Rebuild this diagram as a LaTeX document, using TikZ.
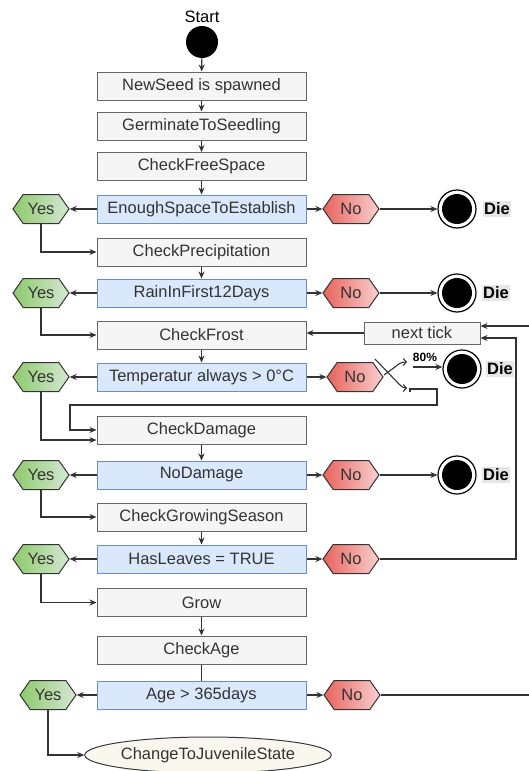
\documentclass[tikz,border=0pt]{standalone}
\usepackage{fontspec}
\setmainfont{Liberation Sans}
\usetikzlibrary{shapes.symbols,shapes.geometric,arrows.meta}
\definecolor{procfill}{HTML}{F5F5F5}
\definecolor{procline}{HTML}{666666}
\definecolor{condfill}{HTML}{DAE8FC}
\definecolor{condline}{HTML}{6C8EBF}
\definecolor{yesdark}{HTML}{8DC96A}
\definecolor{yeslight}{HTML}{D5E8D4}
\definecolor{nodark}{HTML}{E8625D}
\definecolor{nolight}{HTML}{F8D0CE}
\definecolor{ink}{HTML}{333333}
\definecolor{diebg}{HTML}{E6E6E6}
\definecolor{endfill}{HTML}{F9F7ED}
\definecolor{endline}{HTML}{36393D}
\begin{document}
\begin{tikzpicture}[x=1pt,y=-1pt,
  font=\fontsize{16.5}{19}\selectfont,
  proc/.style={draw=procline, fill=procfill, line width=1pt, text=ink,
    minimum width=209pt, minimum height=28pt, inner sep=0pt},
  cond/.style={proc, draw=condline, fill=condfill},
  hexa/.style={signal, signal to=east and west, signal pointer angle=110,
    draw=ink, line width=1pt, text=ink, minimum width=56pt, minimum height=29pt,
    inner sep=0pt},
  yesbox/.style={hexa, left color=yesdark, right color=yeslight},
  nobox/.style={hexa, left color=nodark, right color=nolight},
  diecircle/.style={circle, draw=black, line width=1.2pt, fill=white,
    minimum size=38pt, inner sep=0pt,
    path picture={\fill[black] (path picture bounding box.center) circle (15pt);}},
  dielabel/.style={font=\fontsize{16.5}{19}\selectfont\bfseries, fill=diebg,
    inner sep=1.5pt},
  arr/.style={draw=ink, line width=1.1pt, -{Stealth[length=7pt,width=6pt]}},
  plain/.style={draw=ink, line width=1.1pt},
  openarr/.style={draw=ink, line width=1.1pt, -{Straight Barb[length=3pt,width=7pt]}}
]
\useasboundingbox (0,0) rectangle (528,771);

% start
\node[text=black] (starttxt) at (202,17) {Start};
\node[circle, fill=black, minimum size=32pt, inner sep=0pt] (start) at (202,42) {};

% main column
\node[proc] (seed)    at (201.5,86)  {NewSeed is spawned};
\node[proc] (germ)    at (201.5,126) {GerminateToSeedling};
\node[proc] (free)    at (201.5,166.5) {CheckFreeSpace};
\node[cond] (enough)  at (201.5,209) {EnoughSpaceToEstablish};
\node[proc] (precip)  at (201.5,252) {CheckPrecipitation};
\node[cond] (rain)    at (201.5,293) {RainInFirst12Days};
\node[proc] (frost)   at (201.5,335) {CheckFrost};
\node[cond] (temp)    at (201.5,377) {Temperatur always > 0°C};
\node[proc] (damage)  at (201.5,430) {CheckDamage};
\node[cond] (nodmg)   at (201.5,475) {NoDamage};
\node[proc] (season)  at (201.5,517) {CheckGrowingSeason};
\node[cond] (leaves)  at (201.5,559) {HasLeaves = TRUE};
\node[proc] (grow)    at (201.5,602.5) {Grow};
\node[proc] (agechk)  at (201.5,650) {CheckAge};
\node[cond] (age)     at (201.5,695) {Age > 365days};
\node[ellipse, draw=endline, fill=endfill, line width=1pt, text=ink,
  minimum width=198pt, minimum height=36pt, inner sep=0pt] (juv) at (208,755)
  {ChangeToJuvenileState};

% yes branches
\node[yesbox] (yes1) at (41,209) {Yes};
\node[yesbox] (yes2) at (41,293) {Yes};
\node[yesbox] (yes3) at (41,377) {Yes};
\node[yesbox] (yes4) at (41,475) {Yes};
\node[yesbox] (yes5) at (41,559) {Yes};
\node[yesbox] (yes6) at (48,695) {Yes};

% no branches
\node[nobox] (no1) at (351,209) {No};
\node[nobox] (no2) at (351,293) {No};
\node[nobox] (no3) at (355,377) {No};
\node[nobox] (no4) at (351,475) {No};
\node[nobox] (no5) at (351,559) {No};
\node[nobox] (no6) at (352,695) {No};

% death states
\node[diecircle] (die1) at (457,209) {};
\node[diecircle] (die2) at (457,293) {};
\node[diecircle] (die3) at (462,369) {};
\node[diecircle] (die4) at (457,475) {};
\node[dielabel] (dl1) at (497,209) {Die};
\node[dielabel] (dl2) at (496,293) {Die};
\node[dielabel] (dl3) at (500,369) {Die};
\node[dielabel] (dl4) at (496,475) {Die};

% loop back to the frost check
\node[proc, minimum width=116pt, minimum height=22pt] (tick) at (422,333) {next tick};

% main flow
\draw[arr] (start) -- (seed);
\draw[arr] (seed) -- (germ);
\draw[arr] (germ) -- (free);
\draw[arr] (free) -- (enough);
\draw[arr] (precip) -- (rain);
\draw[arr] (frost) -- (temp);
\draw[arr] (damage) -- (nodmg);
\draw[arr] (season) -- (leaves);
\draw[arr] (grow) -- (agechk);
\draw[plain] (agechk) -- (age);

% decisions to yes / no
\foreach \c/\y/\n in {enough/yes1/no1, rain/yes2/no2, temp/yes3/no3,
                       nodmg/yes4/no4, leaves/yes5/no5, age/yes6/no6}{
  \draw[arr] (\c.west) -- (\y.east);
  \draw[arr] (\c.east) -- (\n.west);
}

% yes continues to the next step
\draw[arr] (yes1.south) |- (precip.west);
\draw[arr] (yes2.south) |- (frost.west);
\draw[arr] (yes3.south) |- ([yshift=-10pt]damage.west);
\draw[arr] (yes4.south) |- (season.west);
\draw[arr] (yes5.south) |- (grow.west);
\draw[arr] (yes6.south) |- (juv.west);

% no leads to death
\draw[arr] (no1.east) -- (die1.west);
\draw[arr] (no2.east) -- (die2.west);
\draw[arr] (no4.east) -- (die4.west);

% probabilistic frost outcome
\coordinate (forkA0) at (375,359);
\coordinate (forkA1) at (397,382);
\coordinate (forkA2) at (407,388);
\coordinate (forkB0) at (384,375);
\coordinate (forkB1) at (395,367);
\coordinate (forkB2) at (407,362);
\draw[plain] (forkA0) -- (forkA1);
\draw[openarr] (forkA1) to[out=-45,in=180] (forkA2);
\draw[plain] (forkB0) -- (forkB1);
\draw[openarr] (forkB1) to[out=45,in=180] (forkB2);
\coordinate (p80) at (413,367);
\draw[arr] (p80) -- (p80 -| die3.west);
\node[font=\fontsize{12}{14}\selectfont\bfseries, text=black] (lbl80) at (425,357) {80\%};
\coordinate (loop0) at (410,392);
\draw[arr] (loop0) -- (410,389) -- (437,389) -- (437,405) -- (70,405) -- (70,430) -- (damage.west);

% next tick
\draw[arr] (tick.west) -- (tick.west -| frost.east);
\draw[arr] (no5.east) -- (516,559) -- (516,338) -- ([yshift=-5pt]tick.east);
\draw[arr] (no6.east) -- (531,695) -- (531,326) -- ([yshift=7pt]tick.east);
\end{tikzpicture}
\end{document}
